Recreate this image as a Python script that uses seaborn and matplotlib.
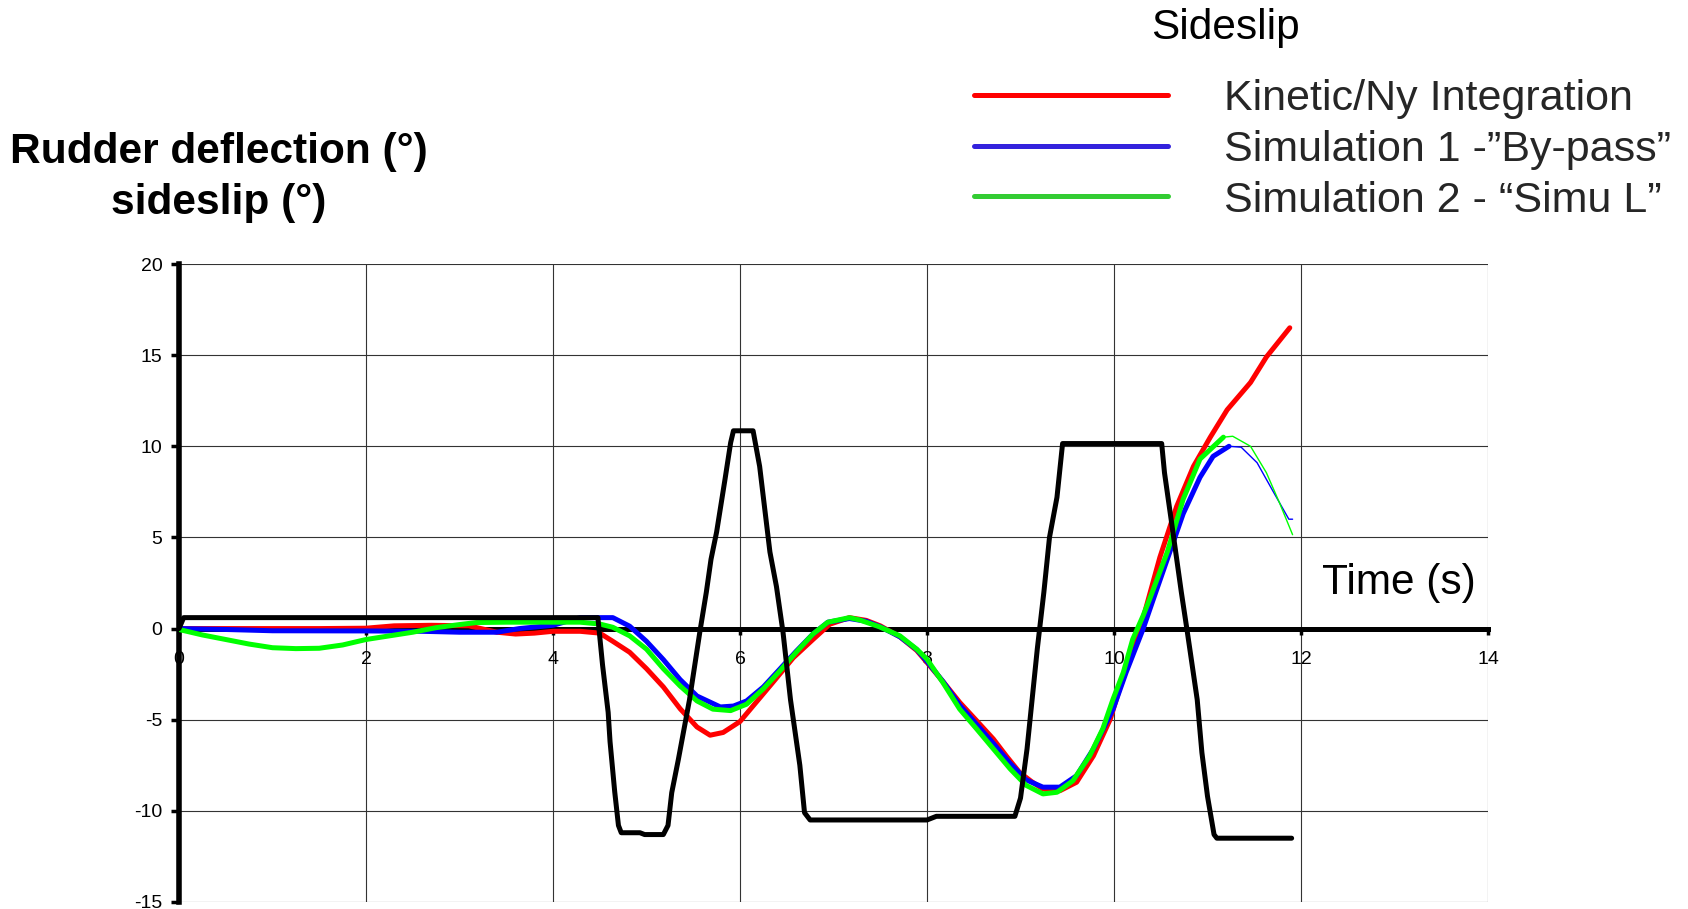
import numpy as np
import matplotlib
matplotlib.use("Agg")
import matplotlib.pyplot as plt
import seaborn as sns
from matplotlib.lines import Line2D

# ---------------- data ----------------
time_rudder = [0, 0.05, 4.48, 4.53, 4.59, 4.61, 4.66, 4.70, 4.73, 4.93, 4.98, 5.18, 5.23,
               5.27, 5.34, 5.46, 5.57, 5.64, 5.69, 5.75, 5.84, 5.90, 5.93, 6.14, 6.21,
               6.32, 6.39, 6.46, 6.54, 6.64, 6.69, 6.75, 8.00, 8.10, 8.94, 9.00, 9.07,
               9.18, 9.25, 9.31, 9.39, 9.45, 10.51, 10.54, 10.63, 10.72, 10.78, 10.89,
               10.94, 11.00, 11.07, 11.10, 11.90]
rudder = [0, 0.6, 0.6, -2.0, -4.6, -6.2, -8.95, -10.8, -11.2, -11.2, -11.3, -11.3, -10.8,
          -9.0, -7.2, -3.9, -0.2, 2.0, 3.8, 5.3, 8.2, 10.2, 10.85, 10.85, 8.9,
          4.2, 2.3, -0.2, -3.9, -7.5, -10.1, -10.5, -10.5, -10.3, -10.3, -9.3, -6.6,
          -1.1, 2.0, 5.0, 7.2, 10.15, 10.15, 8.55, 5.3, 2.0, -0.04, -3.9,
          -6.8, -9.2, -11.3, -11.5, -11.5]

time_kinetic = [0, 0.5, 1.0, 1.5, 2.0, 2.3, 2.7, 3.1, 3.4, 3.6, 3.8, 4.0, 4.29, 4.5,
                4.64, 4.82, 5.0, 5.18, 5.36, 5.54, 5.68, 5.82, 6.0, 6.18, 6.36, 6.57,
                6.78, 6.96, 7.17, 7.35, 7.5, 7.71, 7.89, 8.0, 8.17, 8.35, 8.53, 8.71,
                8.85, 8.99, 9.12, 9.24, 9.42, 9.6, 9.78, 9.96, 10.06, 10.17, 10.27,
                10.49, 10.67, 10.85, 11.03, 11.21, 11.46, 11.63, 11.88]
kinetic = [0.0, 0.0, 0.0, 0.0, 0.02, 0.15, 0.18, 0.15, -0.2, -0.3, -0.25, -0.15, -0.15, -0.25,
           -0.7, -1.3, -2.2, -3.2, -4.4, -5.4, -5.85, -5.7, -5.1, -4.0, -2.9, -1.6,
           -0.6, 0.24, 0.6, 0.45, 0.15, -0.45, -1.2, -1.86, -2.9, -4.05, -5.05, -6.06,
           -7.0, -7.89, -8.4, -8.8, -8.9, -8.43, -6.98, -4.97, -3.3, -1.68, -0.2,
           3.9, 6.7, 8.9, 10.5, 12.0, 13.5, 14.9, 16.5]

time_sim1 = [0, 0.5, 1.0, 2.0, 2.6, 3.0, 3.4, 3.64, 4.0, 4.29, 4.64, 4.82, 5.0, 5.18,
             5.36, 5.54, 5.79, 5.93, 6.07, 6.25, 6.43, 6.6, 6.78, 6.94, 7.17, 7.35, 7.5,
             7.71, 7.89, 8.0, 8.17, 8.35, 8.53, 8.71, 8.89, 9.06, 9.24, 9.42, 9.6,
             9.78, 9.99, 10.13, 10.31, 10.42, 10.74, 10.92, 11.06, 11.23,
             11.36, 11.53, 11.71, 11.87, 11.91]
sim1 = [0, -0.05, -0.12, -0.13, -0.15, -0.2, -0.2, 0.0, 0.18, 0.6, 0.6, 0.13, -0.7, -1.7,
        -2.8, -3.7, -4.3, -4.25, -3.97, -3.2, -2.2, -1.25, -0.3, 0.35, 0.55, 0.4, 0.1,
        -0.45, -1.15, -1.8, -2.9, -4.2, -5.25, -6.3, -7.4, -8.3, -8.7, -8.7, -8.07,
        -6.6, -4.42, -2.4, -0.04, 1.6, 6.3, 8.3, 9.45, 10.0,
        9.95, 9.1, 7.45, 6.0, 6.0]

time_sim2 = [0, 0.25, 0.5, 0.75, 1.0, 1.25, 1.5, 1.75, 2.0, 2.25, 2.5, 2.75, 3.0, 3.18,
             3.5, 4.0, 4.29, 4.5, 4.64, 4.82, 5.0, 5.18, 5.36, 5.54, 5.71, 5.9, 6.07,
             6.25, 6.43, 6.6, 6.78, 6.94, 7.17, 7.28, 7.49, 7.71, 7.89, 8.0, 8.17,
             8.35, 8.53, 8.71, 8.89, 9.06, 9.24, 9.39, 9.56, 9.74, 9.88, 9.99, 10.1,
             10.2, 10.31, 10.38, 10.57, 10.74, 10.92, 11.17,
             11.27, 11.46, 11.63, 11.77, 11.91]
sim2 = [-0.05, -0.35, -0.6, -0.85, -1.05, -1.1, -1.08, -0.9, -0.6, -0.4, -0.2, 0.05, 0.22, 0.33,
        0.35, 0.35, 0.35, 0.25, 0.07, -0.4, -1.13, -2.2, -3.15, -3.97, -4.42, -4.5, -4.15,
        -3.3, -2.3, -1.3, -0.3, 0.35, 0.6, 0.47, 0.1, -0.4, -1.13, -1.68, -2.96,
        -4.42, -5.5, -6.6, -7.7, -8.6, -9.07, -8.98, -8.35, -6.98, -5.5, -3.87, -2.4,
        -0.59, 0.69, 1.6, 4.2, 7.1, 9.3, 10.5,
        10.55, 10.0, 8.55, 6.9, 5.15]

series_labels = ["Kinetic/Ny Integration", "Simulation 1 -\u201dBy-pass\u201d",
                 "Simulation 2 - \u201cSimu L\u201d"]
x_ticks = [0, 2, 4, 6, 8, 10, 12, 14]
y_ticks = [-15, -10, -5, 0, 5, 10, 15, 20]

# thick part ends / thin part starts at these times
sim1_thin_from = 11.23
sim2_thin_from = 11.17

# ---------------- style ----------------
sns.set_theme(style="white")
plt.rcParams["font.family"] = ["Liberation Sans", "DejaVu Sans"]

fig = plt.figure(figsize=(16.88, 9.09), dpi=100)
ax = fig.add_axes([179 / 1688, 7 / 909, (1488 - 179) / 1688, (902 - 264) / 909])

RED, BLUE, GREEN = "#ff0000", "#0000ff", "#00ff00"
line_kw = dict(sort=False, estimator=None, solid_joinstyle="round",
               solid_capstyle="round")


def draw(t, v, color, thin_from=None):
    t = np.asarray(t, dtype=float)
    v = np.asarray(v, dtype=float)
    if thin_from is None:
        sns.lineplot(x=t, y=v, ax=ax, color=color, lw=3.6, zorder=3, **line_kw)
        return
    thick = t <= thin_from
    thin = t >= thin_from
    sns.lineplot(x=t[thick], y=v[thick], ax=ax, color=color, lw=3.6, zorder=3, **line_kw)
    sns.lineplot(x=t[thin], y=v[thin], ax=ax, color=color, lw=1.0, zorder=3, **line_kw)


draw(time_kinetic, kinetic, RED)
draw(time_sim1, sim1, BLUE, sim1_thin_from)
draw(time_sim2, sim2, GREEN, sim2_thin_from)
sns.lineplot(x=time_rudder, y=rudder, ax=ax, color="black", lw=3.6, zorder=4, **line_kw)

ax.set_xlim(0, 14)
ax.set_ylim(-15, 20)
ax.set_xticks(x_ticks)
ax.set_yticks(y_ticks)
ax.set_xticklabels([str(v) for v in x_ticks])
ax.set_yticklabels([str(v) for v in y_ticks])
ax.grid(True, color="#333333", lw=0.8)
ax.set_xlabel("")
ax.set_ylabel("")

for s in ("top", "right"):
    ax.spines[s].set_visible(False)
ax.spines["bottom"].set_position(("data", 0))
ax.spines["bottom"].set_linewidth(3.6)
ax.spines["bottom"].set_color("black")
ax.spines["left"].set_linewidth(4.0)
ax.spines["left"].set_color("black")

ax.tick_params(axis="x", bottom=True, direction="out", length=4, width=2.5,
               color="black", pad=12, labelsize=14, labelcolor="black")
ax.tick_params(axis="y", left=True, direction="out", length=6, width=2.5,
               color="black", pad=6, labelsize=14, labelcolor="black")

ax.text(12.22, 1.9, "Time (s)", fontsize=30.5, color="black", ha="left", va="baseline")

# y label (two bold lines, top-left)
fig.text(219 / 1688, 1 - 163 / 909, "Rudder deflection (\u00b0)", fontsize=30.5,
         fontweight="bold", ha="center", va="baseline", color="black")
fig.text(219 / 1688, 1 - 214 / 909, "sideslip (\u00b0)", fontsize=30.5,
         fontweight="bold", ha="center", va="baseline", color="black")

# legend
handles = [Line2D([0], [0], color="#ff0000", lw=3.6),
           Line2D([0], [0], color="#3322dd", lw=3.6),
           Line2D([0], [0], color="#33cc33", lw=3.6)]
fig.legend(handles, series_labels, loc="upper left",
           bbox_to_anchor=(974 / 1688, 1 - 79 / 909), frameon=False,
           fontsize=31, handlelength=4.5, handletextpad=1.3, labelspacing=0.25,
           borderpad=0, borderaxespad=0)
fig.text(1225 / 1688, 1 - 28 / 909, "Sideslip", fontsize=30.5, ha="center",
         va="center", color="black")

fig.savefig("out.png", dpi=100)
